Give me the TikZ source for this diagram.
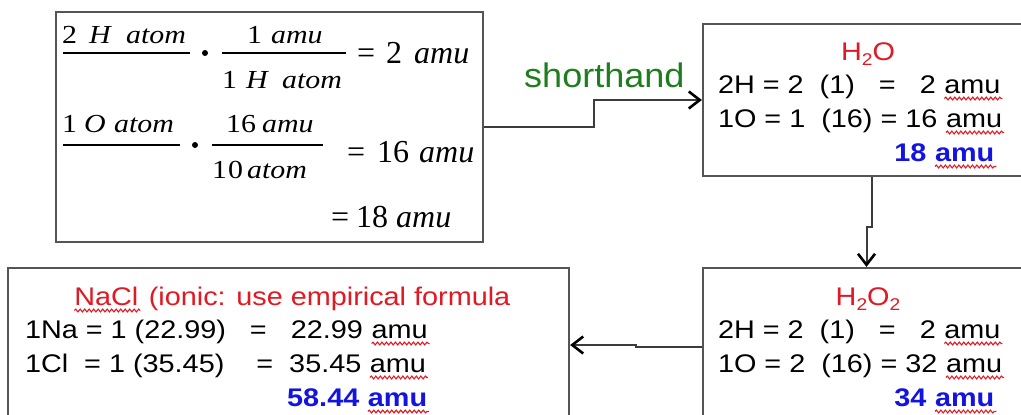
\documentclass[tikz,border=0pt]{standalone}
\usepackage{fontspec}
\usetikzlibrary{arrows.meta,decorations.pathmorphing,calc}
\newfontfamily\arlA[FakeStretch=1.13]{Liberation Sans}
\newfontfamily\arlSh[FakeStretch=1.06]{Liberation Sans}
\newfontfamily\tmsF[FakeStretch=1.15]{Liberation Serif}
\newfontfamily\tmsR[FakeStretch=1.0]{Liberation Serif}
\newcommand\bxfont{\arlA\fontsize{25.5}{30}\selectfont}
\newcommand\shfont{\arlSh\fontsize{34}{40}\selectfont}
\newcommand\eqfont{\tmsF\fontsize{26}{30}\selectfont}
\newcommand\resfont{\tmsR\fontsize{32}{38}\selectfont}
\definecolor{tred}{RGB}{225,25,35}
\definecolor{tblue}{RGB}{20,20,225}
\definecolor{tgreen}{RGB}{30,125,30}
\definecolor{boxgray}{RGB}{85,85,85}
\definecolor{conngray}{RGB}{60,60,60}
\tikzset{
 wavy/.style={draw=tred, line width=1.1pt, decorate, decoration={snake, amplitude=1.4pt, segment length=4.5pt}},
 frame/.style={draw=boxgray, line width=2.2pt, inner sep=0pt},
 conn/.style={draw=conngray, line width=2pt, -{Straight Barb[length=11pt,width=17pt,line width=2.6pt,color=black]}},
 txt/.style={anchor=base west, inner sep=0pt, outer sep=0pt, font=\bxfont},
 tot/.style={anchor=base east, inner sep=0pt, font=\bxfont\bfseries, text=tblue},
 totw/.style={anchor=base west, inner sep=0pt, font=\bxfont\bfseries, text=tblue},
 ttl/.style={anchor=base, inner sep=0pt, font=\bxfont, text=tred},
 eqf/.style={anchor=base west, inner sep=0pt, font=\eqfont},
 eqr/.style={anchor=base west, inner sep=0pt, font=\resfont},
 bar/.style={draw=black, line width=1.8pt},
 lbl/.style={anchor=base west, inner sep=0pt, font=\shfont, text=tgreen},
}
\newcommand\wv[1]{\tikz[baseline=(wvn.base)]{\node[inner sep=0pt,outer sep=0pt,anchor=base](wvn){#1};\draw[wavy]([yshift=-5.5pt]wvn.base west)--([yshift=-5.5pt,xshift=2pt]wvn.base east);}}
\newcommand\sub[1]{\raisebox{-5pt}{\fontsize{17}{17}\selectfont #1}}
\begin{document}
\begin{tikzpicture}[x=1pt,y=-1pt]
\useasboundingbox (0,0) rectangle (1021,415);
\clip (0,0) rectangle (1021,415);
\fill[white] (0,0) rectangle (1021,415);

% boxes
\node[frame, minimum width=427pt, minimum height=230pt] (eq) at (269.5,127) {};
\node[frame, minimum width=337pt, minimum height=152pt] (h2o) at (871.5,100) {};
\node[frame, minimum width=337pt, minimum height=158pt] (h2o2) at (871.5,347) {};
\node[frame, minimum width=561pt, minimum height=158pt] (nacl) at (288.5,347) {};

% equation box
\node[eqf] (a1) at (62,43) {\makebox[27pt][l]{2}\makebox[37pt][l]{\textit{H}}\textit{atom}};
\draw[bar] (63,53) -- (190,53);
\fill (205,53) circle (3pt);
\node[eqf] (a2) at (247,43) {\makebox[24pt][l]{1}\textit{amu}};
\draw[bar] (222,53) -- (346,53);
\node[eqf] (a3) at (222,88) {\makebox[24pt][l]{1}\makebox[36pt][l]{\textit{H}}\textit{atom}};
\node[eqr] (a4) at (357,63) {\makebox[29pt][l]{=}\makebox[28pt][l]{2}\textit{amu}};

\node[eqf] (b1) at (62,132) {\makebox[22pt][l]{1}\makebox[30pt][l]{\textit{O}}\textit{atom}};
\draw[bar] (63,145) -- (180,145);
\fill (195,145) circle (3pt);
\node[eqf] (b2) at (226,132) {\makebox[36pt][l]{16}\textit{amu}};
\draw[bar] (212,145) -- (323,145);
\node[eqf] (b3) at (212,178) {\makebox[16pt][l]{1}\makebox[19pt][l]{0}\textit{atom}};
\node[eqr] (b4) at (347,162) {\makebox[30pt][l]{=}\makebox[42pt][l]{16}\textit{amu}};

\node[eqr] (c4) at (331,227) {\makebox[25pt][l]{=}\makebox[40pt][l]{18}\textit{amu}};

% H2O box
\node[ttl] (t1) at (868,60) {H\sub{2}O};
\node[txt] (l1) at (718,93) {2H = 2\ \ (1)\ \ \ =\ \ \ 2 \wv{amu}};
\node[txt] (l2) at (718,127) {1O = 1\ \ (16) = 16 \wv{amu}};
\node[tot] (l3) at (997,161) {18 \wv{amu}};

% H2O2 box
\node[ttl] (t2) at (868,305) {H\sub{2}O\sub{2}};
\node[txt] (p1) at (718,338) {2H = 2\ \ (1)\ \ \ =\ \ \ 2 \wv{amu}};
\node[txt] (p2) at (718,372) {1O = 2\ \ (16) = 32 \wv{amu}};
\node[tot] (p3) at (997,406) {34 \wv{amu}};

% NaCl box
\node[ttl] (t3) at (292,305) {\wv{NaCl} (ionic: use empirical formula};
\node[txt] (n1) at (25,338) {1Na = 1 (22.99)\ \ \ =\ \ \ 22.99 \wv{amu}};
\node[txt] (n2) at (25,372) {1Cl\ \ = 1 (35.45)\ \ \ \ =\ \ 35.45 \wv{amu}};
\node[totw] (n3) at (287,406) {58.44 \wv{amu}};

% connectors
\node[lbl] (sh) at (524,87) {shorthand};
\draw[conn] (eq.east) -- ++(110,0) |- (h2o.west);
\draw[conn] (h2o.south) -- ++(0,50) -| ([xshift=-5pt]h2o2.north);
\draw[conn] (h2o2.west) -- ++(-66,0) |- ([yshift=2pt]nacl.east);
\end{tikzpicture}
\end{document}
